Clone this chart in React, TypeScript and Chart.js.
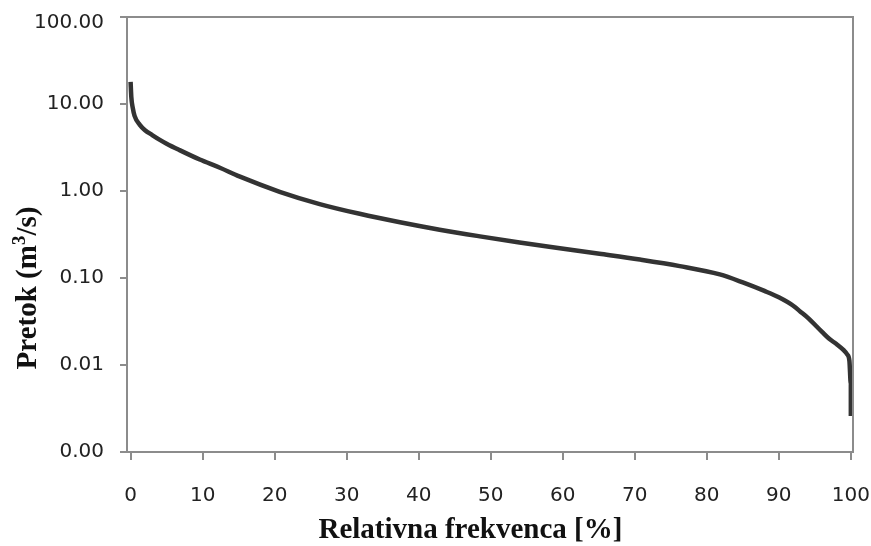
import React, { useEffect, useRef } from "react";
import { Chart, registerables } from "chart.js";

Chart.register(...registerables);

// Flow duration curve: relative frequency (%) vs. discharge (m³/s)
const frequencyPct: number[] = [
  0, 0.1, 0.3, 0.55, 1.25, 2, 3, 4, 5, 6.8, 9.6, 12.4, 15.1, 20.7, 26.25, 31.8,
  37.4, 42.9, 48.5, 54, 59.6, 65.1, 70.7, 76.25, 81.8, 85, 88, 90, 92, 93, 94,
  96, 97, 98, 99, 99.5, 99.8, 100, 100,
];
const discharge: number[] = [
  18, 12, 9, 7.3, 5.8, 5.0, 4.4, 3.9, 3.5, 2.95, 2.3, 1.85, 1.47, 0.98, 0.708,
  0.547, 0.437, 0.359, 0.301, 0.256, 0.22, 0.19, 0.163, 0.137, 0.11, 0.089,
  0.071, 0.06, 0.048, 0.041, 0.035, 0.024, 0.02, 0.0174, 0.0148, 0.0132,
  0.0112, 0.006, 0.0026,
];
const xTicks: number[] = [0, 10, 20, 30, 40, 50, 60, 70, 80, 90, 100];
const yTicks: number[] = [0.001, 0.01, 0.1, 1, 10, 100];

const xTitle = "Relativna frekvenca [%]";
const yTitleParts = { base: "Pretok (m", sup: "3", tail: "/s)" };

const AXIS_GRAY = "#8c8c8c";
const TICK_COLOR = "#222";
const TICK_FONT = "20px 'DejaVu Sans'";
const TITLE_FONT = "bold 29px 'Liberation Serif'";
const SUP_FONT = "bold 19px 'Liberation Serif'";
const Y_TICK_LEN = 7;
const Y_TICK_PAD = 16;

const fmt = (v: number) => Number(v).toFixed(2);
const yMax = yTicks[yTicks.length - 1];

// Top/right frame of the plot area, the top y label (set a little lower so it
// clears the frame) and the two axis titles
const frameAndTitles = {
  id: "frameAndTitles",
  afterDraw(chart: any) {
    const { ctx, chartArea } = chart;
    ctx.save();
    ctx.strokeStyle = AXIS_GRAY;
    ctx.lineWidth = 2;
    ctx.beginPath();
    ctx.moveTo(chartArea.left, chartArea.top);
    ctx.lineTo(chartArea.right, chartArea.top);
    ctx.lineTo(chartArea.right, chartArea.bottom);
    ctx.stroke();

    // top y tick label
    const yScale = chart.scales.y;
    ctx.fillStyle = TICK_COLOR;
    ctx.font = TICK_FONT;
    ctx.textAlign = "right";
    ctx.textBaseline = "middle";
    ctx.fillText(
      fmt(yMax),
      chartArea.left - Y_TICK_LEN - Y_TICK_PAD,
      yScale.getPixelForValue(yMax) + 6
    );

    ctx.fillStyle = "#111";
    ctx.textBaseline = "alphabetic";

    // x title
    ctx.font = TITLE_FONT;
    ctx.textAlign = "center";
    ctx.fillText(xTitle, chartArea.left + (chartArea.right - chartArea.left) * 0.473, 538);

    // y title, rotated, with a real superscript
    ctx.translate(36, 288);
    ctx.rotate(-Math.PI / 2);
    ctx.textAlign = "left";
    ctx.font = TITLE_FONT;
    const wBase = ctx.measureText(yTitleParts.base).width;
    const wTail = ctx.measureText(yTitleParts.tail).width;
    ctx.font = SUP_FONT;
    const wSup = ctx.measureText(yTitleParts.sup).width;
    const total = wBase + wSup + wTail;
    let x = -total / 2;
    ctx.font = TITLE_FONT;
    ctx.fillText(yTitleParts.base, x, 0);
    x += wBase;
    ctx.font = SUP_FONT;
    ctx.fillText(yTitleParts.sup, x, -11);
    x += wSup;
    ctx.font = TITLE_FONT;
    ctx.fillText(yTitleParts.tail, x, 0);
    ctx.restore();
  },
};

export default function App() {
  const canvasRef = useRef<HTMLCanvasElement | null>(null);

  useEffect(() => {
    document.body.style.margin = "0";
    const canvas = canvasRef.current;
    if (!canvas) return;
    const points = frequencyPct.map((x, i) => ({ x, y: discharge[i] }));
    const chart = new Chart(canvas, {
      type: "scatter",
      data: {
        datasets: [
          {
            data: points,
            showLine: true,
            borderColor: "#333333",
            borderWidth: 4.5,
            pointRadius: 0,
            cubicInterpolationMode: "monotone",
          },
        ],
      },
      options: {
        animation: false,
        responsive: false,
        layout: { padding: { top: 17, right: 18, left: 0, bottom: 0 } },
        plugins: { legend: { display: false }, tooltip: { enabled: false } },
        scales: {
          x: {
            type: "linear",
            min: -0.5,
            max: 100.3,
            afterBuildTicks: (scale: any) => {
              scale.ticks = xTicks.map((v) => ({ value: v }));
            },
            afterFit: (scale: any) => {
              scale.height = 94;
              scale.paddingLeft = 0;
              scale.paddingRight = 0;
            },
            grid: {
              display: true,
              drawOnChartArea: false,
              drawTicks: true,
              tickLength: 8,
              color: AXIS_GRAY,
              lineWidth: 2,
            },
            border: { display: true, color: AXIS_GRAY, width: 2 },
            ticks: {
              padding: 24,
              color: TICK_COLOR,
              font: { family: "DejaVu Sans", size: 20 },
              maxRotation: 0,
              autoSkip: false,
            },
          },
          y: {
            type: "logarithmic",
            min: yTicks[0],
            max: yMax,
            afterBuildTicks: (scale: any) => {
              scale.ticks = yTicks.map((v) => ({ value: v }));
            },
            afterFit: (scale: any) => {
              scale.width = 127;
              scale.paddingTop = 0;
              scale.paddingBottom = 0;
            },
            grid: {
              display: true,
              drawOnChartArea: false,
              drawTicks: true,
              tickLength: Y_TICK_LEN,
              color: AXIS_GRAY,
              lineWidth: 2,
            },
            border: { display: true, color: AXIS_GRAY, width: 2 },
            ticks: {
              padding: Y_TICK_PAD,
              color: TICK_COLOR,
              font: { family: "DejaVu Sans", size: 20 },
              callback: (v: any) => (Number(v) === yMax ? "" : fmt(v)),
              autoSkip: false,
            },
          },
        },
      },
      plugins: [frameAndTitles],
    });
    return () => chart.destroy();
  }, []);

  return (
    <div style={{ width: 871, height: 546, background: "#fff" }}>
      <canvas ref={canvasRef} width={871} height={546} />
    </div>
  );
}
